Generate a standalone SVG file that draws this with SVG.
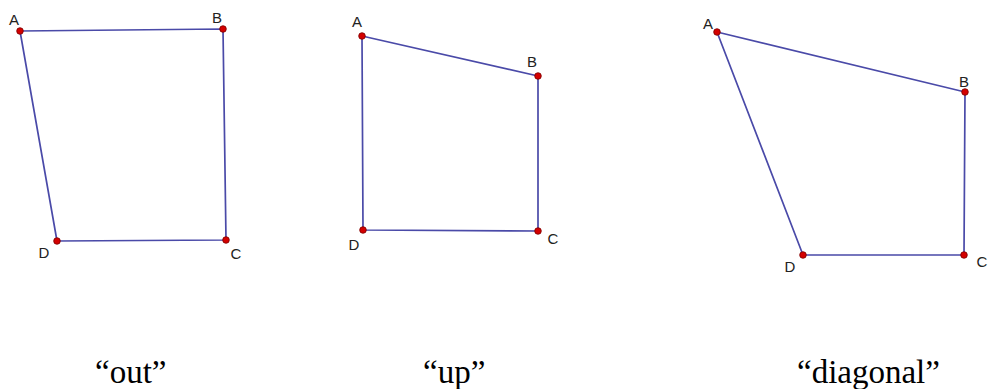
<svg xmlns="http://www.w3.org/2000/svg" width="988" height="389" viewBox="0 0 988 389">
<style>
.edge{fill:none;stroke:#4a4aa8;stroke-width:1.7;stroke-linejoin:round}
.pt{fill:#d40000;stroke:#7a0000;stroke-width:0.8}
.lbl{font-family:"Liberation Sans",Arial,sans-serif;font-size:15px;fill:#222;text-anchor:middle}
.cap{font-family:"Liberation Serif","Times New Roman",serif;font-size:33px;fill:#000}
</style>
<rect width="988" height="389" fill="#fff"/>
<g id="connectors">
<polygon class="edge" points="20,31 223,29 226,240 57,241"/>
<polygon class="edge" points="362,36 538,76 538,231 363,230"/>
<polygon class="edge" points="717,32 965,92 964,255 803,255"/>
</g>
<g id="out">
<circle class="pt" cx="20" cy="31" r="3.3"/><text class="lbl" x="14" y="25">A</text>
<circle class="pt" cx="223" cy="29" r="3.3"/><text class="lbl" x="217" y="23">B</text>
<circle class="pt" cx="226" cy="240" r="3.3"/><text class="lbl" x="236" y="259">C</text>
<circle class="pt" cx="57" cy="241" r="3.3"/><text class="lbl" x="44" y="258">D</text>
<text class="cap" x="95" y="383">“out”</text>
</g>
<g id="up">
<circle class="pt" cx="362" cy="36" r="3.3"/><text class="lbl" x="357" y="27">A</text>
<circle class="pt" cx="538" cy="76" r="3.3"/><text class="lbl" x="532" y="67">B</text>
<circle class="pt" cx="538" cy="231" r="3.3"/><text class="lbl" x="553" y="244">C</text>
<circle class="pt" cx="363" cy="230" r="3.3"/><text class="lbl" x="354" y="250">D</text>
<text class="cap" x="423" y="383">“up”</text>
</g>
<g id="diagonal">
<circle class="pt" cx="717" cy="32" r="3.3"/><text class="lbl" x="708" y="29">A</text>
<circle class="pt" cx="965" cy="92" r="3.3"/><text class="lbl" x="964" y="87">B</text>
<circle class="pt" cx="964" cy="255" r="3.3"/><text class="lbl" x="982" y="267">C</text>
<circle class="pt" cx="803" cy="255" r="3.3"/><text class="lbl" x="790" y="272">D</text>
<text class="cap" x="797" y="383">“diagonal”</text>
</g>
</svg>
